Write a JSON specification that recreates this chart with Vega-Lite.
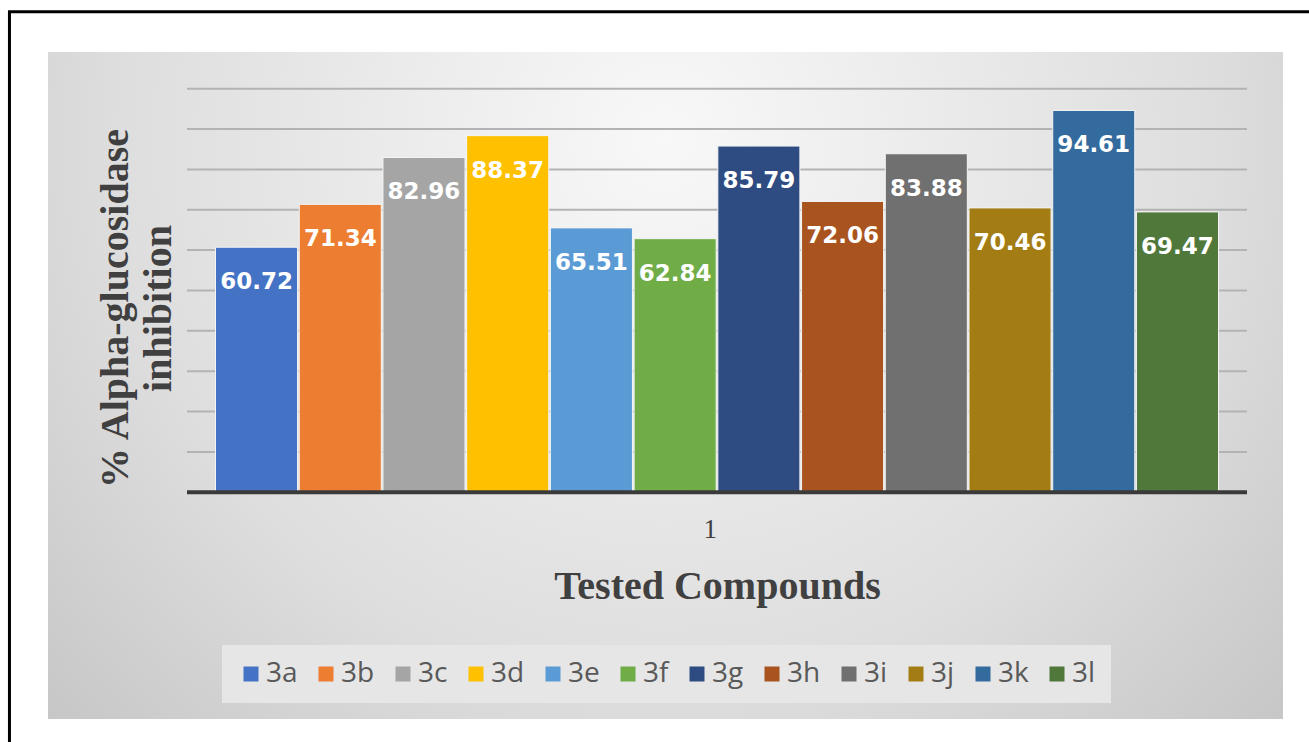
{
  "$schema": "https://vega.github.io/schema/vega-lite/v6.json",
  "width": 1235,
  "height": 667,
  "autosize": {"type": "none"},
  "padding": {"left": 48, "top": 52, "right": 26, "bottom": 23},
  "background": "white",
  "config": {"view": {"stroke": null}},
  "data": {
    "values": [
      {"group": "1", "compound": "3a", "value": 60.72},
      {"group": "1", "compound": "3b", "value": 71.34},
      {"group": "1", "compound": "3c", "value": 82.96},
      {"group": "1", "compound": "3d", "value": 88.37},
      {"group": "1", "compound": "3e", "value": 65.51},
      {"group": "1", "compound": "3f", "value": 62.84},
      {"group": "1", "compound": "3g", "value": 85.79},
      {"group": "1", "compound": "3h", "value": 72.06},
      {"group": "1", "compound": "3i", "value": 83.88},
      {"group": "1", "compound": "3j", "value": 70.46},
      {"group": "1", "compound": "3k", "value": 94.61},
      {"group": "1", "compound": "3l", "value": 69.47}
    ]
  },
  "layer": [
    {
      "data": {"values": [{"group": "1"}]},
      "mark": {"type": "rect", "fill": null, "stroke": "black", "strokeWidth": 3, "clip": false},
      "encoding": {
        "x": {"field": "group", "type": "nominal", "bandPosition": -0.1675,
              "scale": {"paddingInner": 0, "paddingOuter": 0.08255, "align": 0.7943}},
        "x2": {"field": "group", "bandPosition": 1.3},
        "y": {"datum": 119.1, "type": "quantitative",
              "scale": {"domain": [-56.2, 109.1], "nice": false, "zero": false}},
        "y2": {"datum": -90}
      }
    },
    {
      "data": {"values": [{}]},
      "mark": {
        "type": "rect",
        "fill": {
          "gradient": "radial",
          "x1": 0.5, "y1": 0.3, "r1": 0,
          "x2": 0.5, "y2": 0.3, "r2": 0.8,
          "stops": [
            {"offset": 0, "color": "#f8f8f8"},
            {"offset": 0.55, "color": "#dedede"},
            {"offset": 1, "color": "#bcbcbc"}
          ]
        }
      },
      "encoding": {}
    },
    {
      "data": {"values": [
        {"group": "1", "t": 10}, {"group": "1", "t": 20}, {"group": "1", "t": 30},
        {"group": "1", "t": 40}, {"group": "1", "t": 50}, {"group": "1", "t": 60},
        {"group": "1", "t": 70}, {"group": "1", "t": 80}, {"group": "1", "t": 90},
        {"group": "1", "t": 100}
      ]},
      "mark": {"type": "rule", "stroke": "#b3b3b3", "strokeWidth": 2},
      "encoding": {
        "x": {"field": "group", "type": "nominal", "bandPosition": 0},
        "x2": {"field": "group", "bandPosition": 1},
        "y": {"field": "t", "type": "quantitative"}
      }
    },
    {
      "mark": {"type": "bar", "stroke": "#f4f4f4", "strokeWidth": 1},
      "encoding": {
        "x": {"field": "group", "type": "nominal",
              "axis": {
                "title": "Tested Compounds",
                "offset": -226,
                "domain": false, "ticks": false, "grid": false,
                "labelAngle": 0,
                "labelFont": "Liberation Serif", "labelFontSize": 27, "labelColor": "#404040",
                "labelPadding": 36,
                "titleFont": "Liberation Serif", "titleFontSize": 40, "titleFontWeight": "bold",
                "titleColor": "#404040",
                "titleX": 669, "titleY": 105, "titleBaseline": "alphabetic",
                "zindex": 1
              }},
        "xOffset": {"field": "compound", "type": "nominal",
                    "scale": {"paddingInner": 0.02, "paddingOuter": 0.3405}},
        "y": {"field": "value", "type": "quantitative",
              "axis": {
                "title": ["% Alpha-glucosidase", "inhibition"],
                "labels": false, "ticks": false, "domain": false, "grid": false,
                "titleFont": "Liberation Serif", "titleFontSize": 40, "titleFontWeight": "bold",
                "titleColor": "#404040", "titleLineHeight": 43,
                "titleAngle": 270, "titleBaseline": "middle", "titleAlign": "center",
                "titleX": 67, "titleY": 256,
                "zindex": 1
              }},
        "y2": {"datum": 0},
        "color": {"field": "compound", "type": "nominal",
                  "scale": {
                    "domain": ["3a", "3b", "3c", "3d", "3e", "3f", "3g", "3h", "3i", "3j", "3k", "3l"],
                    "range": ["#4472C4", "#ED7D31", "#A5A5A5", "#FFC000", "#5B9BD5", "#70AD47", "#2E4C82", "#A9541F", "#707070", "#A37D14", "#336B9E", "#50783A"]
                  },
                  "legend": {
                    "title": null,
                    "orient": "none",
                    "direction": "horizontal",
                    "legendX": 174, "legendY": 593,
                    "symbolType": "square", "symbolSize": 225, "symbolStrokeWidth": 0,
                    "labelFont": "Open Sans", "labelFontSize": 28, "labelColor": "#595959",
                    "labelOffset": 1, "columnPadding": 14,
                    "padding": 15, "fillColor": "#e6e6e6",
                    "zindex": 1
                  }}
      }
    },
    {
      "mark": {"type": "text", "baseline": "middle", "dy": 35, "color": "white",
               "font": "DejaVu Sans", "fontWeight": "bold", "fontSize": 23},
      "encoding": {
        "x": {"field": "group", "type": "nominal"},
        "xOffset": {"field": "compound", "type": "nominal"},
        "y": {"field": "value", "type": "quantitative"},
        "text": {"field": "value", "type": "quantitative", "format": ".2f"}
      }
    },
    {
      "data": {"values": [{"group": "1", "t": 0}]},
      "mark": {"type": "rule", "stroke": "#3a3a3a", "strokeWidth": 4},
      "encoding": {
        "x": {"field": "group", "type": "nominal", "bandPosition": 0},
        "x2": {"field": "group", "bandPosition": 1},
        "y": {"field": "t", "type": "quantitative"}
      }
    }
  ]
}
